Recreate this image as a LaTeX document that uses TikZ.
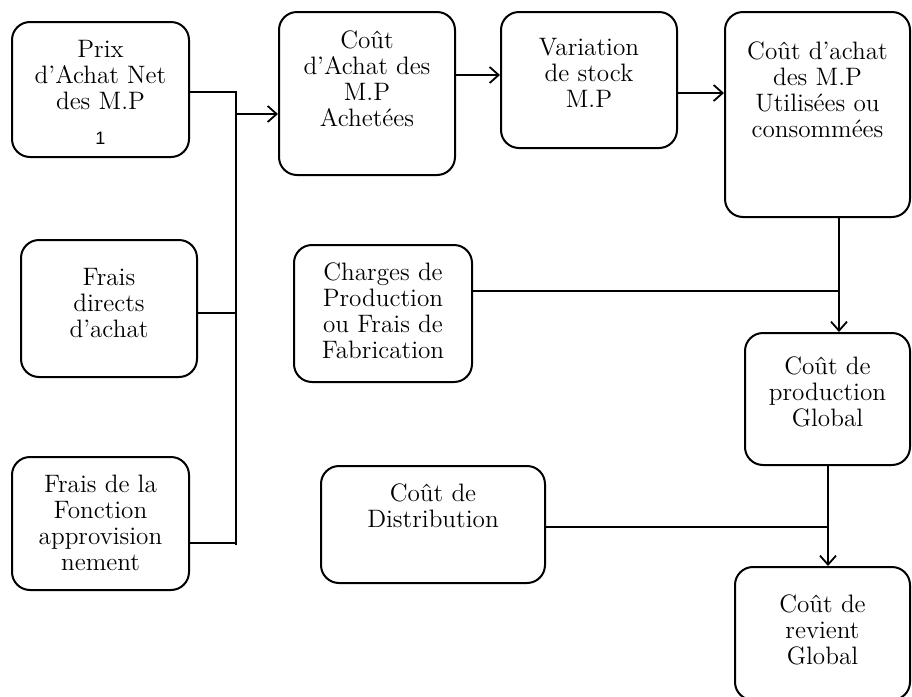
\documentclass[tikz,border=0pt]{standalone}
\usepackage{fontspec}
\newfontfamily\numfont{Liberation Sans}
\usetikzlibrary{arrows.meta,calc}
\tikzset{
  box/.style={draw, line width=1pt, rounded corners=9pt, inner sep=0pt},
  txt/.style={align=center, inner sep=0pt, font=\fontsize{12.6}{13}\selectfont},
  conn/.style={line width=1pt},
  arr/.style={line width=1pt, -{Straight Barb[length=4.5pt,width=8pt,line width=0.9pt]}}
}
\newcommand{\mkbox}[5]{% name, x1, y1, x2, y2 (px)
  \node[box, minimum width={(#4-#2)*0.5pt}, minimum height={(#5-#3)*0.5pt}] (#1) at ({(#2+#4)/2},{(#3+#5)/2}) {};}
\begin{document}
\begin{tikzpicture}[x=0.5pt,y=-0.5pt]
\useasboundingbox (0,0) rectangle (912,697);
% boxes
\mkbox{A}{12}{22}{189}{157}
\mkbox{B}{279}{12}{455}{175}
\mkbox{C}{501}{12}{677}{148}
\mkbox{D}{725}{12}{910}{217}
\mkbox{H}{21}{240}{197}{377}
\mkbox{I}{12}{457}{189}{590}
\mkbox{F}{294}{245}{472}{382}
\mkbox{E}{745}{333}{910}{465}
\mkbox{S}{321}{466}{545}{583}
\mkbox{G}{735}{567}{910}{700}
% texts
\node[txt] (At) at (A.center |- 0,75) {Prix\\d’Achat Net\\des M.P};
\node[txt, font=\numfont\fontsize{9}{10}\selectfont] (A1) at (A.center |- 0,138) {1};
\node[txt] (Bt) at (B.center |- 0,79) {Coût\\d’Achat des\\M.P\\Achetées};
\node[txt] (Ct) at (C.center |- 0,73) {Variation\\de stock\\M.P};
\node[txt] (Dt) at (D.center |- 0,90) {Coût d’achat\\des M.P\\Utilisées ou\\consommées};
\node[txt] (Ht) at (H.center |- 0,303) {Frais\\directs\\d’achat};
\node[txt] (It) at (I.center |- 0,523) {Frais de la\\Fonction\\approvision\\nement};
\node[txt] (Ft) at (F.center |- 0,311) {Charges de\\Production\\ou Frais de\\Fabrication};
\node[txt] (Et) at (E.center |- 0,392) {Coût de\\production\\Global};
\node[txt] (St) at (S.center |- 0,506) {Coût de\\Distribution};
\node[txt] (Gt) at (G.center |- 0,630) {Coût de\\revient\\Global};
% bus on the left
\coordinate (bustop) at (236,92);
\coordinate (busbot) at (236,545);
\draw[conn] (A.east |- bustop) -- (bustop) -- (busbot);
\draw[conn] (H.east |- 0,313) -- (bustop |- 0,313);
\draw[conn] (I.east |- 0,543) -- (bustop |- 0,543);
\draw[arr] (bustop |- 0,114) -- (B.west |- 0,114);
% top chain
\draw[arr] (B.east |- 0,75) -- (C.west |- 0,75);
\draw[arr] (C.east |- 0,93) -- (D.west |- 0,93);
% right column
\coordinate (colA) at (839,291);
\draw[arr] (D.south -| colA) -- (E.north -| colA);
\draw[conn] (F.east |- colA) -- (colA);
\coordinate (colB) at (828,527);
\draw[arr] (E.south -| colB) -- (G.north -| colB);
\draw[conn] (S.east |- colB) -- (colB);
\end{tikzpicture}
\end{document}
